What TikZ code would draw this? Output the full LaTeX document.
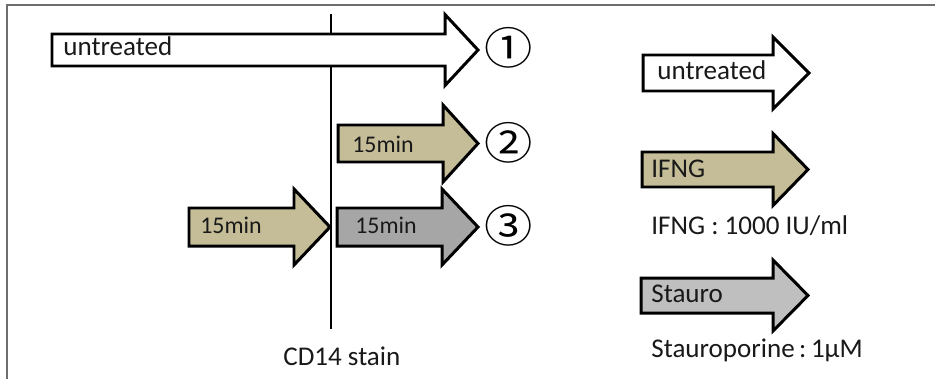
\documentclass[tikz,border=0pt]{standalone}
\usepackage{fontspec}
\setmainfont{Carlito}
\newfontfamily\circfont{Noto Sans CJK JP}

\definecolor{ifngtan}{HTML}{C4BD97}
\definecolor{staurodark}{HTML}{A6A6A6}
\definecolor{staurolight}{HTML}{BFBFBF}
\definecolor{framegray}{HTML}{6E6E6E}

% block arrow: [fill]{left}{head start}{tip}{mid y}{half body}{half head}
\newcommand{\blockarrow}[7][white]{%
  \draw[blockline, fill=#1] (#2,#5-#6) -- (#3,#5-#6) -- (#3,#5-#7) -- (#4,#5)
    -- (#3,#5+#7) -- (#3,#5+#6) -- (#2,#5+#6) -- cycle;}

\begin{document}
\begin{tikzpicture}[x=0.02cm, y=-0.02cm,
    blockline/.style={draw=black, line width=1.7pt, line join=miter},
    lbl/.style={anchor=base west, inner sep=0pt, text=black!90, font=\fontsize{15.4}{18}\selectfont},
    minlbl/.style={lbl, font=\fontsize{13.6}{16}\selectfont},
    circnum/.style={inner sep=0pt, xscale=1.1, font=\circfont\fontsize{25}{28}\selectfont}
]
\useasboundingbox (0,0) rectangle (935,379);

% frame
\draw[framegray, line width=1.1pt] (935,5) -- (7,5) -- (7,379);

% stain time point
\coordinate (stainTop) at (331,14);
\coordinate (stainBot) at (331,329);
\draw[line width=0.6pt] (stainTop) -- (stainBot);
\node[lbl] (stain) at (283,365) {CD14 stain};

% sample 1
\blockarrow{52}{445}{478}{50}{16}{35.5}
\node[lbl] (untr) at (63,55) {untreated};
\node[circnum] (n1) at (509,48) {①};

% sample 2
\blockarrow[ifngtan]{338}{443}{478}{143.5}{18.5}{38.5}
\node[minlbl] (ifngB) at (352,152) {15min};
\node[circnum] (n2) at (509,143) {②};

% sample 3
\blockarrow[ifngtan]{189}{294}{330}{227}{19}{38}
\blockarrow[staurodark]{337}{442}{478}{227}{19}{38}
\node[minlbl] (ifngA) at (200,233) {15min};
\node[minlbl] (stauA) at (355,233) {15min};
\node[circnum] (n3) at (509,226) {③};

% legend
\blockarrow{643}{773}{809}{73}{18}{36}
\node[lbl] (keyUntr) at (657,79) {untreated};
\blockarrow[ifngtan]{642}{773}{808}{169.5}{17.5}{36}
\node[lbl] (keyIfng) at (651,177) {IFNG};
\node[lbl] (doseIfng) at (651,234) {IFNG : 1000 IU/ml};
\blockarrow[staurolight]{641}{773}{808}{295.5}{17.5}{35.5}
\node[lbl] (keyStau) at (651,302) {Stauro};
\node[lbl] (doseStau) at (651,357) {Stauroporine\,:\,1µM};
\end{tikzpicture}
\end{document}
